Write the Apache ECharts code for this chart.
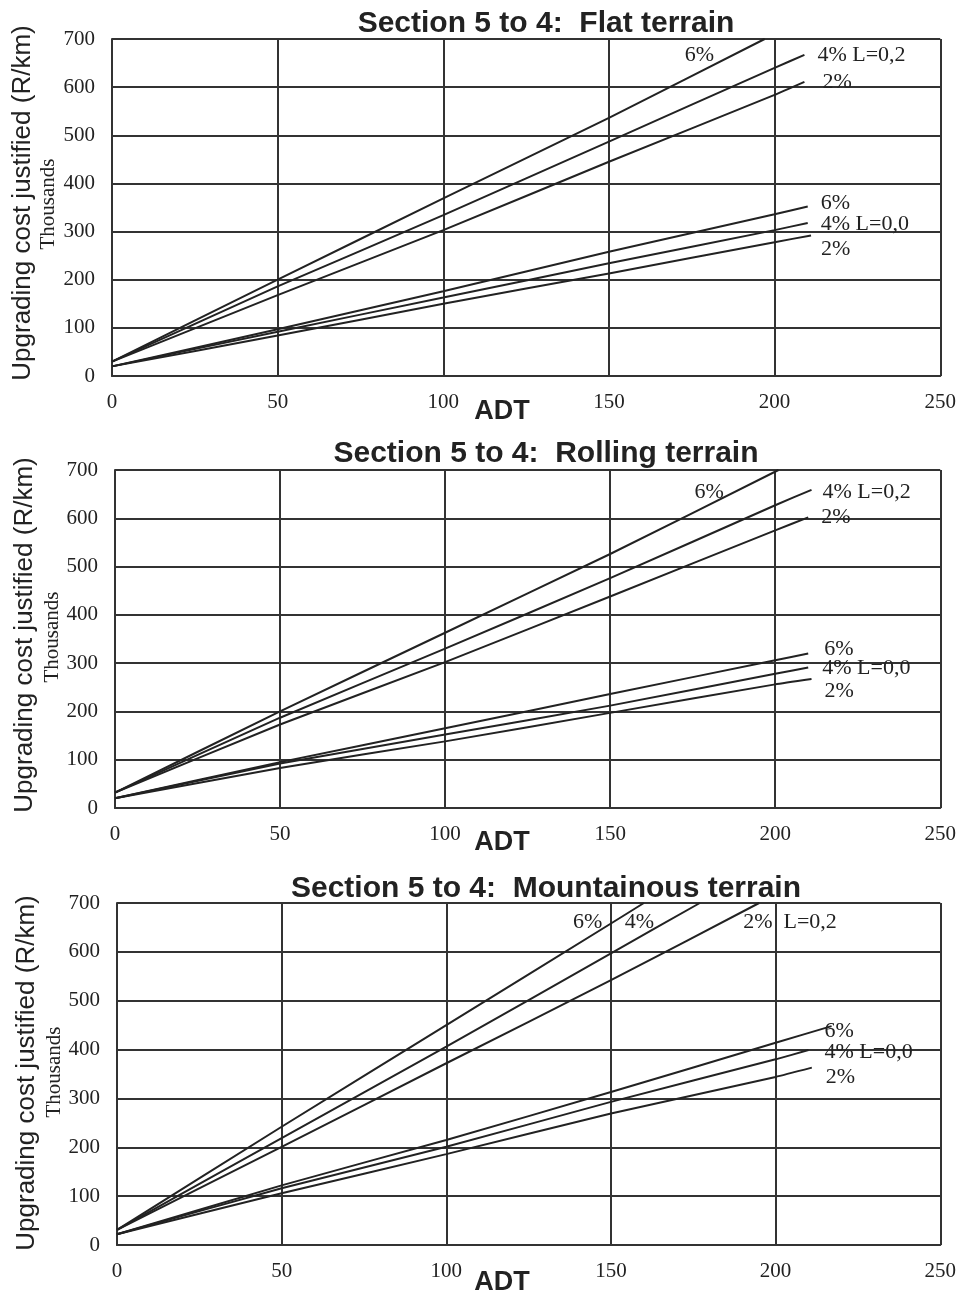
<!DOCTYPE html>
<html>
<head>
<meta charset="utf-8">
<script src="https://cdn.jsdelivr.net/npm/echarts@6/dist/echarts.min.js"></script>
<style>
  html, body { margin: 0; padding: 0; background: #fff; }
  #main { width: 959px; height: 1301px; }
</style>
</head>
<body>
<div id="main"></div>
<script>
// ADT on x, upgrading cost (R/km, thousands) on y
const adtTicks = [0, 50, 100, 150, 200, 250];
const costTicks = [0, 100, 200, 300, 400, 500, 600, 700];
const panelTitles = [
  'Section 5 to 4:  Flat terrain',
  'Section 5 to 4:  Rolling terrain',
  'Section 5 to 4:  Mountainous terrain'
];

// Flat terrain
const flatHigh6 = [[0, 30], [50, 200], [100, 369], [150, 536], [197, 700]];
const flatHigh4 = [[0, 30], [50, 186], [100, 334], [150, 487], [200, 640], [209, 667]];
const flatHigh2 = [[0, 30], [50, 168], [100, 303], [150, 445], [200, 584], [209, 611]];
const flatLow6 = [[0, 20], [50, 97], [100, 176], [150, 258], [200, 336], [210, 352]];
const flatLow4 = [[0, 20], [50, 92], [100, 163], [150, 234], [200, 303], [210, 318]];
const flatLow2 = [[0, 20], [50, 84], [100, 150], [150, 213], [200, 278], [211, 292]];

// Rolling terrain
const rollHigh6 = [[0, 32], [50, 200], [100, 363], [150, 526], [201, 700]];
const rollHigh4 = [[0, 32], [50, 187], [100, 330], [150, 476], [200, 627], [211, 659]];
const rollHigh2 = [[0, 32], [50, 173], [100, 302], [150, 438], [200, 575], [210, 602]];
const rollLow6 = [[0, 20], [50, 95], [100, 165], [150, 236], [200, 306], [210, 320]];
const rollLow4 = [[0, 20], [50, 92], [100, 152], [150, 212], [200, 278], [210, 291]];
const rollLow2 = [[0, 20], [50, 83], [100, 138], [150, 197], [200, 256], [211, 267]];

// Mountainous terrain
const mtnHigh6 = [[0, 31], [50, 242], [100, 450], [150, 658], [160, 700]];
const mtnHigh4 = [[0, 31], [50, 219], [100, 406], [150, 597], [177, 700]];
const mtnHigh2 = [[0, 31], [50, 201], [100, 372], [150, 542], [195, 700]];
const mtnLow6 = [[0, 22], [50, 122], [100, 215], [150, 313], [200, 414], [217, 448]];
const mtnLow4 = [[0, 22], [50, 116], [100, 201], [150, 293], [200, 380], [210, 399]];
const mtnLow2 = [[0, 22], [50, 106], [100, 186], [150, 269], [200, 344], [211, 363]];

const INK = '#222';
const SERIF = '"Liberation Serif", "Times New Roman", serif';
const SANS = '"Liberation Sans", Arial, sans-serif';

const grids = [
  { left: 112, top: 39, width: 829, height: 337 },
  { left: 115, top: 470, width: 826, height: 338 },
  { left: 117, top: 903, width: 826, height: 342 }
];

// curves per panel: [data, label, labelOffset]
const panels = [
  [
    [flatHigh6, '6%', [-80, 16]],
    [flatHigh4, '4% L=0,2', [13, 0]],
    [flatHigh2, '2%', [18, 0]],
    [flatLow6, '6%', [13, -3]],
    [flatLow4, '4% L=0,0', [13, 1]],
    [flatLow2, '2%', [10, 14]]
  ],
  [
    [rollHigh6, '6%', [-84, 22]],
    [rollHigh4, '4% L=0,2', [11, 2]],
    [rollHigh2, '2%', [13, 0]],
    [rollLow6, '6%', [16, -4]],
    [rollLow4, '4% L=0,0', [14, 1]],
    [rollLow2, '2%', [13, 12]]
  ],
  [
    [mtnHigh6, '6%', [-71, 19]],
    [mtnHigh4, '4%', [-75, 19]],
    [mtnHigh2, '2%  L=0,2', [-16, 19]],
    [mtnLow6, '6%', [-7, 5]],
    [mtnLow4, '4% L=0,0', [16, 2]],
    [mtnLow2, '2%', [14, 10]]
  ]
];

const gridLine = { show: true, lineStyle: { color: '#333', width: 2 } };

const xAxes = grids.map((g, i) => ({
  type: 'value', gridIndex: i,
  min: adtTicks[0], max: adtTicks[adtTicks.length - 1], interval: 50,
  axisLine: { show: true, onZero: false, lineStyle: { color: '#333', width: 2 } },
  axisTick: { show: false },
  axisLabel: { color: INK, fontFamily: SERIF, fontSize: 21, margin: 16 },
  splitLine: gridLine
}));

const yAxes = grids.map((g, i) => ({
  type: 'value', gridIndex: i,
  min: costTicks[0], max: costTicks[costTicks.length - 1], interval: 100,
  axisLine: { show: true, lineStyle: { color: '#333', width: 2 } },
  axisTick: { show: false },
  axisLabel: { color: INK, fontFamily: SERIF, fontSize: 21, margin: 17 },
  splitLine: gridLine
}));

const series = [];
panels.forEach((curves, i) => {
  curves.forEach(([data, label, offset]) => {
    series.push({
      type: 'line', xAxisIndex: i, yAxisIndex: i,
      data: data, smooth: 0.15, showSymbol: false, symbol: 'none',
      lineStyle: { color: INK, width: 2 },
      endLabel: {
        show: true, formatter: label, distance: 0, offset: offset,
        align: 'left', verticalAlign: 'middle',
        color: INK, fontFamily: SERIF, fontSize: 22
      }
    });
  });
});

const titleTops = [4, 434, 869];
const titles = panelTitles.map((t, i) => ({
  text: t, left: 541, top: titleTops[i], textAlign: 'center',
  textStyle: { fontFamily: SANS, fontWeight: 'bold', fontSize: 30, color: INK }
}));

// axis names
const yTitleSpots = [[23, 203, 48, 204], [25, 635, 52, 637], [27, 1073, 54, 1072]];
const adtSpots = [412, 843, 1283];
const graphic = [];
yTitleSpots.forEach(([x1, y1, x2, y2]) => {
  graphic.push({
    type: 'text', x: x1, y: y1, rotation: Math.PI / 2,
    style: { text: 'Upgrading cost justified (R/km)', font: '26px ' + SANS, fill: INK,
      align: 'center', verticalAlign: 'middle', textAlign: 'center', textVerticalAlign: 'middle' }
  });
  graphic.push({
    type: 'text', x: x2, y: y2, rotation: Math.PI / 2,
    style: { text: 'Thousands', font: '21px ' + SERIF, fill: INK,
      align: 'center', verticalAlign: 'middle', textAlign: 'center', textVerticalAlign: 'middle' }
  });
});
adtSpots.forEach(y => {
  graphic.push({
    type: 'text', x: 502, y: y,
    style: { text: 'ADT', font: 'bold 27px ' + SANS, fill: INK,
      align: 'center', verticalAlign: 'middle', textAlign: 'center', textVerticalAlign: 'middle' }
  });
});

const chart = echarts.init(document.getElementById('main'));
chart.setOption({
  animation: false,
  backgroundColor: '#fff',
  title: titles,
  grid: grids,
  xAxis: xAxes,
  yAxis: yAxes,
  series: series,
  graphic: graphic
});
</script>
</body>
</html>
